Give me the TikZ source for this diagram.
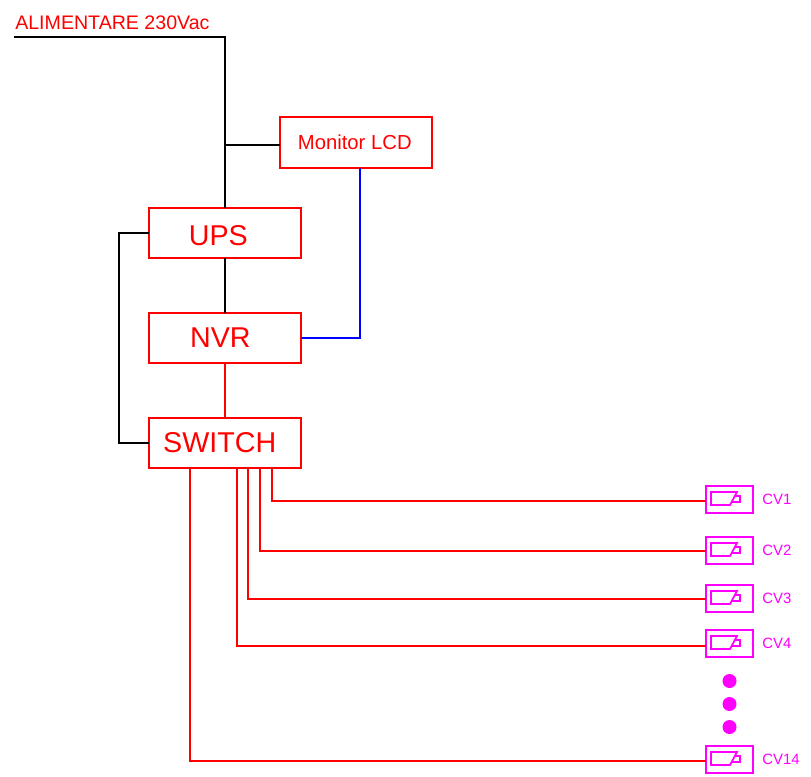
\documentclass[tikz,border=0pt]{standalone}
\usepackage{fontspec}
\setmainfont{Liberation Sans}
\usetikzlibrary{positioning}

\begin{document}
\begin{tikzpicture}[
  x=0.75pt, y=-0.75pt,
  box/.style={draw=red, line width=1.1pt, outer sep=0pt, text=red, align=center, minimum width=114pt, minimum height=37.5pt, inner sep=0pt},
  bigbox/.style={box, font=\fontsize{21.5}{24}\selectfont},
  camera/.style={draw=magenta, line width=1.1pt, outer sep=0pt, inner sep=0pt, minimum width=35.25pt, minimum height=20.25pt},
  camtext/.style={text=magenta, font=\fontsize{11.2}{13}\selectfont, inner sep=0pt, anchor=west},
  dotnode/.style={circle, fill=magenta, inner sep=0pt, minimum size=10.5pt},
  wire/.style={line width=1.1pt}
]
\definecolor{magenta}{RGB}{255,0,255}
\useasboundingbox (0,0) rectangle (811,776);

\node[bigbox] (ups) at (225,233) {UPS\rule{0pt}{18.8pt}\hspace{10pt}};
\node[bigbox, below=41.25pt of ups] (nvr) {NVR\hspace{7pt}};
\node[bigbox, below=41.25pt of nvr] (switch) {SWITCH\hspace{8pt}};
\node[box, minimum height=38.25pt, font=\fontsize{15.2}{18}\selectfont] (monitor) at (356,142.5) {Monitor LCD\hspace{1.8pt}};
\node[text=red, font=\fontsize{14.7}{17}\selectfont, inner sep=0pt, anchor=west] (supply) at (15,23) {ALIMENTARE 230Vac};
\coordinate (feed) at (14,37);

\draw[wire] (feed) -| (ups.north);
\draw[wire] (ups.north |- 0,145) -- (monitor.west |- 0,145);
\draw[wire] (ups.south) -- (nvr.north);
\draw[wire] (ups.west) -- ++(-30,0) |- (switch.west);
\draw[wire, blue] ([xshift=3pt]monitor.south) |- (nvr.east);
\draw[wire, red] (nvr.south) -- (switch.north);

\foreach \n/\x/\y/\c/\t in {1/272/501/499.5/499, 2/260/551/550.5/550, 3/248/599/598.5/598, 4/237/646/643.5/643, 14/190/761/759.5/759} {
  \node[camera] (cv\n) at (729.5,\c) {};
  \node[camtext] (label\n) at (762,\t) {CV\n};
  \draw[wire, red] (\x,0 |- switch.south) |- (cv\n.west |- 0,\y);
  \begin{scope}[shift={(cv\n.north west)}]
    \draw[magenta, line width=1.3pt] (5,6) -- (31,6) -- (24,19) -- (5,19) -- cycle;
    \draw[magenta, line width=1.1pt] (29,10) -- (34,10) -- (34,16) -- (25.5,16);
  \end{scope}
}

\node[dotnode] (dota) at (729.5,681) {};
\node[dotnode] (dotb) at (729.5,704) {};
\node[dotnode] (dotc) at (729.5,727) {};

\end{tikzpicture}
\end{document}
